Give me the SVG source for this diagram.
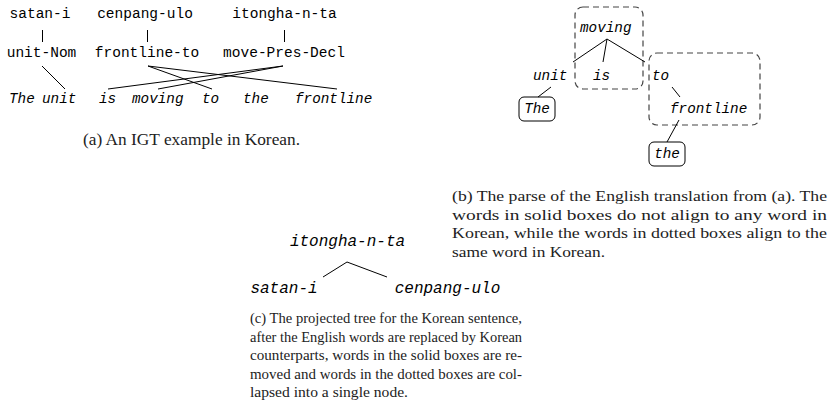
<svg xmlns="http://www.w3.org/2000/svg" width="830" height="410" viewBox="0 0 830 410">
<style>
.m{font-family:"Liberation Mono","DejaVu Sans Mono",monospace;font-size:14.5px;fill:#000}
.i{font-family:"Liberation Mono","DejaVu Sans Mono",monospace;font-style:italic;font-size:14.3px;fill:#000}
.c{font-family:"Liberation Mono","DejaVu Sans Mono",monospace;font-style:italic;font-size:16px;fill:#000}
.cap{font-family:"Liberation Serif","DejaVu Serif",serif;font-size:15px;fill:#222}
.e{stroke:#000;stroke-width:1;fill:none}
.dash{fill:none;stroke:#444;stroke-width:1.2;stroke-dasharray:6,4}
.solid{fill:none;stroke:#000;stroke-width:1}
</style>
<rect width="830" height="410" fill="#fff"/>
<!-- (a) IGT -->
<g id="a-korean">
<text class="m" x="40" y="18" text-anchor="middle">satan-i</text>
<text class="m" x="145" y="18" text-anchor="middle">cenpang-ulo</text>
<text class="m" x="284.5" y="18" text-anchor="middle">itongha-n-ta</text>
</g>
<g id="a-gloss">
<text class="m" x="41.5" y="57" text-anchor="middle">unit-Nom</text>
<text class="m" x="147" y="57" text-anchor="middle">frontline-to</text>
<text class="m" x="284" y="57" text-anchor="middle">move-Pres-Decl</text>
</g>
<g id="a-english">
<text class="i" x="9" y="103">The</text>
<text class="i" x="42" y="103">unit</text>
<text class="i" x="99" y="103">is</text>
<text class="i" x="132" y="103">moving</text>
<text class="i" x="202" y="103">to</text>
<text class="i" x="243" y="103">the</text>
<text class="i" x="295" y="103">frontline</text>
</g>
<g id="a-connectors" class="e">
<line x1="42.5" y1="30" x2="42.5" y2="42"/>
<line x1="147.5" y1="30" x2="147.5" y2="42"/>
<line x1="284.5" y1="30" x2="284.5" y2="42"/>
<line x1="42" y1="66" x2="65" y2="89"/>
<line x1="148" y1="66" x2="212" y2="89"/>
<line x1="148" y1="66" x2="337" y2="89"/>
<line x1="283" y1="66" x2="108" y2="89"/>
<line x1="283" y1="66" x2="158" y2="89"/>
</g>
<text id="cap-a" class="cap" x="83" y="145" style="font-size:16.5px" textLength="217" lengthAdjust="spacingAndGlyphs">(a) An IGT example in Korean.</text>

<!-- (b) parse -->
<g id="b-moving-box"><rect class="dash" x="575" y="7" width="68" height="82" rx="8"/></g>
<g id="b-to-box"><rect class="dash" x="649" y="53" width="111" height="72" rx="8"/></g>
<g id="b-moving"><text class="i" x="580" y="32">moving</text></g>
<g id="b-unit"><text class="i" x="533" y="80">unit</text></g>
<g id="b-is"><text class="i" x="593" y="80">is</text></g>
<g id="b-to"><text class="i" x="652" y="80">to</text></g>
<g id="b-frontline"><text class="i" x="670" y="113">frontline</text></g>
<g id="b-The"><rect class="solid" x="519" y="97" width="36" height="24" rx="5"/><text class="i" x="537" y="113" text-anchor="middle">The</text></g>
<g id="b-the"><rect class="solid" x="649" y="142" width="36" height="24" rx="5"/><text class="i" x="667" y="158" text-anchor="middle">the</text></g>
<g id="b-connectors" class="e">
<line x1="607" y1="39" x2="573" y2="62"/>
<line x1="607" y1="39" x2="603" y2="62"/>
<line x1="607" y1="39" x2="645" y2="62"/>
<line x1="551" y1="87" x2="538" y2="97"/>
<line x1="672" y1="87" x2="680" y2="97"/>
<line x1="679" y1="120" x2="667" y2="142"/>
</g>
<g id="cap-b" class="cap">
<text x="452" y="201" textLength="375" lengthAdjust="spacingAndGlyphs">(b) The parse of the English translation from (a). The</text>
<text x="452" y="219.5" textLength="375" lengthAdjust="spacingAndGlyphs">words in solid boxes do not align to any word in</text>
<text x="452" y="238" textLength="375" lengthAdjust="spacingAndGlyphs">Korean, while the words in dotted boxes align to the</text>
<text x="452" y="256.5" textLength="153" lengthAdjust="spacingAndGlyphs">same word in Korean.</text>
</g>

<!-- (c) projected tree -->
<g id="c-itongha"><text class="c" x="347.5" y="246" text-anchor="middle">itongha-n-ta</text></g>
<g id="c-satan"><text class="c" x="284" y="293" text-anchor="middle">satan-i</text></g>
<g id="c-cenpang"><text class="c" x="447.5" y="293" text-anchor="middle">cenpang-ulo</text></g>
<g id="c-connectors" class="e">
<line x1="347" y1="262" x2="323" y2="277"/>
<line x1="347" y1="262" x2="387" y2="277"/>
</g>
<g id="cap-c" class="cap">
<text x="250" y="323" textLength="272" lengthAdjust="spacingAndGlyphs">(c) The projected tree for the Korean sentence,</text>
<text x="250" y="341.5" textLength="272" lengthAdjust="spacingAndGlyphs">after the English words are replaced by Korean</text>
<text x="250" y="360" textLength="272" lengthAdjust="spacingAndGlyphs">counterparts, words in the solid boxes are re-</text>
<text x="250" y="378.5" textLength="272" lengthAdjust="spacingAndGlyphs">moved and words in the dotted boxes are col-</text>
<text x="250" y="397" textLength="158" lengthAdjust="spacingAndGlyphs">lapsed into a single node.</text>
</g>
</svg>
